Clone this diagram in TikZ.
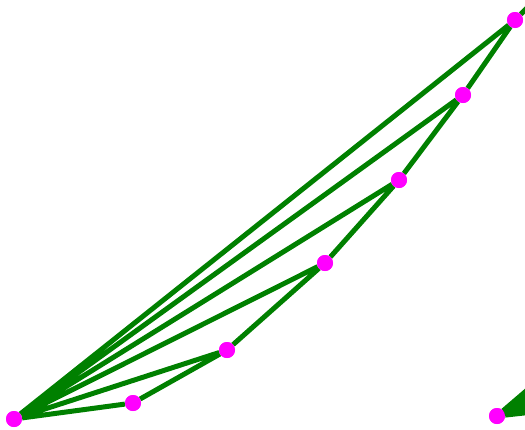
\documentclass[tikz,border=0pt]{standalone}
\definecolor{egreen}{RGB}{0,128,0}
\definecolor{vmag}{RGB}{255,0,255}
\begin{document}
\begin{tikzpicture}[x=1pt,y=-1pt,
  edge/.style={draw=egreen,line width=5pt},
  vert/.style={circle,fill=vmag,inner sep=0pt,minimum size=16pt}]
\useasboundingbox (0,0) rectangle (525,429);
\clip (0,0) rectangle (525,429);
\node[vert] (A) at (14,419) {};
\node[vert] (B) at (133,403) {};
\node[vert] (C) at (227,350) {};
\node[vert] (D) at (325,263) {};
\node[vert] (E) at (399,180) {};
\node[vert] (F) at (463,95) {};
\node[vert] (G) at (515,20) {};
\node[vert] (H) at (497,416) {};
\coordinate (Gout) at (545,-10);
\coordinate (Hout1) at (560,362);
\coordinate (Hout2) at (560,409);
\fill[egreen] (H.center) -- (Hout1) -- (Hout2) -- cycle;
\draw[edge] (H) -- (Hout1) (H) -- (Hout2);
\draw[edge] (G) -- (Gout);
\draw[edge] (A) -- (B) (B) -- (C) (A) -- (C) (C) -- (D) (A) -- (D)
  (D) -- (E) (A) -- (E) (E) -- (F) (A) -- (F) (F) -- (G) (A) -- (G);
\foreach \n in {A,B,C,D,E,F,G,H} \node[vert] at (\n) {};
\end{tikzpicture}
\end{document}
